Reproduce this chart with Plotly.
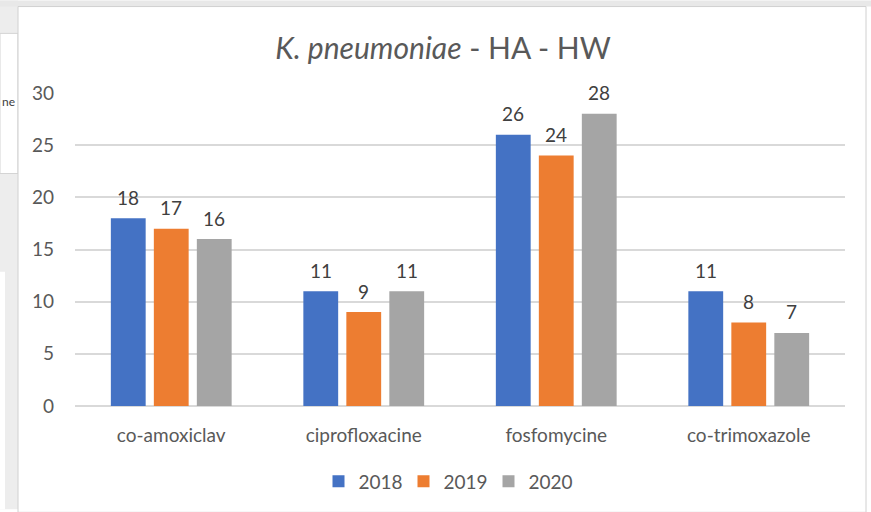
import plotly.graph_objects as go

categories = ["co-amoxiclav", "ciprofloxacine", "fosfomycine", "co-trimoxazole"]
years = ["2018", "2019", "2020"]
values_2018 = [18, 11, 26, 11]
values_2019 = [17, 9, 24, 8]
values_2020 = [16, 11, 28, 7]
colors = ["#4472C4", "#ED7D31", "#A5A5A5"]

W, H = 871, 512
L, R, T, B = 75, 26, 93, 104
pw, ph = W - L - R, H - T - B
bargap, bargroupgap = 0.33, 0.19
slot = pw / len(categories) * (1 - bargap) / len(years)


def px_x(p):
    return (p - L) / pw


def px_y(p):
    return (H - B - p) / ph


fig = go.Figure()
annotations = []
series = [values_2018, values_2019, values_2020]
for i, (name, vals, col) in enumerate(zip(years, series, colors)):
    fig.add_trace(go.Bar(
        x=categories, y=vals, name=name,
        marker=dict(color=col, line=dict(width=0)),
    ))
    # data labels, set a bit higher above the bars like Excel does
    for cat, v in zip(categories, vals):
        annotations.append(dict(
            x=cat, y=v, xref="x", yref="y", text=str(v), showarrow=False,
            xshift=(i - 1) * slot, yshift=21, yanchor="middle",
            font=dict(size=19, color="#404040"),
        ))

# background of the screenshot around the chart box
shapes = [
    dict(type="rect", xref="paper", yref="paper",
         x0=px_x(0), x1=px_x(18), y0=px_y(512), y1=px_y(0),
         fillcolor="#ededed", line=dict(width=0), layer="below"),
    dict(type="rect", xref="paper", yref="paper",
         x0=px_x(0), x1=px_x(18), y0=px_y(174), y1=px_y(33),
         fillcolor="#ffffff", line=dict(color="#d4d4d4", width=1), layer="below"),
    dict(type="rect", xref="paper", yref="paper",
         x0=px_x(0), x1=px_x(5), y0=px_y(512), y1=px_y(273),
         fillcolor="#ffffff", line=dict(width=0), layer="below"),
    dict(type="rect", xref="paper", yref="paper",
         x0=px_x(0), x1=px_x(871), y0=px_y(6), y1=px_y(0),
         fillcolor="#e8e8e8", line=dict(width=0), layer="below"),
    dict(type="rect", xref="paper", yref="paper",
         x0=px_x(18), x1=px_x(866), y0=px_y(515), y1=px_y(6),
         fillcolor="#ffffff", line=dict(color="#d0d0d0", width=1), layer="below"),
]

annotations.append(dict(text="ne", xref="paper", yref="paper", x=px_x(0), y=px_y(102),
                        xanchor="left", yanchor="middle", showarrow=False,
                        font=dict(size=12, color="#404040")))

fig.update_layout(
    width=W, height=H,
    margin=dict(l=L, r=R, t=T, b=B),
    paper_bgcolor="#ffffff",
    plot_bgcolor="rgba(0,0,0,0)",
    font=dict(family="Lato, Open Sans, sans-serif", size=19, color="#595959"),
    title=dict(text="<i>K. pneumoniae</i> - HA - HW", xref="container", x=443 / W,
               xanchor="center", y=1 - 48 / H, yanchor="middle",
               font=dict(size=30, color="#595959")),
    barmode="group", bargap=bargap, bargroupgap=bargroupgap,
    xaxis=dict(showgrid=False, showline=False, ticks="", ticklabelstandoff=16,
               tickfont=dict(size=19, color="#595959")),
    yaxis=dict(range=[0, 30], dtick=5, showgrid=True, gridcolor="#d9d9d9", gridwidth=1.5,
               zeroline=True, zerolinecolor="#d9d9d9", zerolinewidth=1.5,
               ticks="", ticklabelstandoff=20, tickfont=dict(size=19, color="#595959")),
    legend=dict(orientation="h", x=px_x(446), xanchor="center", y=px_y(484), yanchor="middle",
                font=dict(size=19, color="#595959"), itemwidth=30, entrywidth=40,
                traceorder="normal"),
    shapes=shapes,
    annotations=annotations,
)

fig.write_html("out.html", config={"displayModeBar": False},
               post_script="document.body.style.margin='0';")
